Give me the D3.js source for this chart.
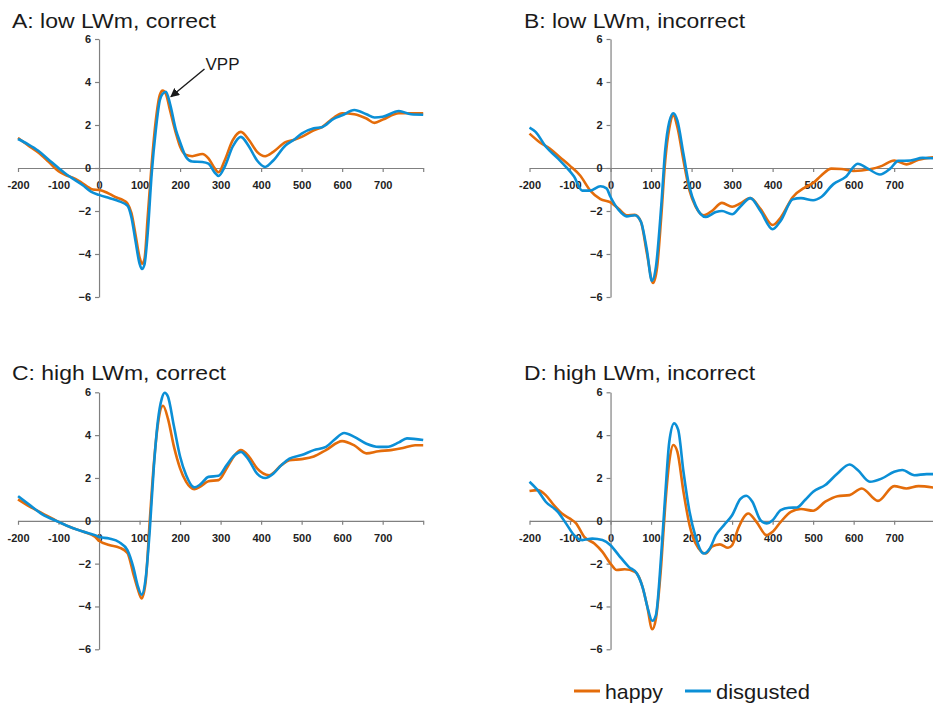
<!DOCTYPE html>
<html>
<head>
<meta charset="utf-8">
<script src="https://cdn.jsdelivr.net/npm/d3@7"></script>
<style>
  body { margin: 0; background: #fff; }
  svg { display: block; }
  text { font-family: Arial, "Liberation Sans", Helvetica, sans-serif; }
</style>
</head>
<body>
<svg id="chart" width="933" height="706"></svg>
<script>
// Axis ticks and labels (time in ms, amplitude in µV)
const xTickValues = [-200, -100, 0, 100, 200, 300, 400, 500, 600, 700, 800];
const xTickLabels = ["-200", "-100", "0", "100", "200", "300", "400", "500", "600", "700", ""];
const yTickValues = [-6, -4, -2, 0, 2, 4, 6];

const seriesNames = ["happy", "disgusted"];
const seriesColors = ["#E46C0A", "#0B8FD6"];
const panelTitles = ["A: low LWm, correct", "B: low LWm, incorrect", "C: high LWm, correct", "D: high LWm, incorrect"];

// Waveforms: [time ms, amplitude]
const happyA = [[-200,1.4],[-175,1.05],[-150,0.72],[-125,0.3],[-100,-0.15],[-80,-0.35],[-65,-0.45],[-50,-0.6],[-30,-0.85],[-15,-1.0],[0,-1.02],[20,-1.15],[40,-1.35],[60,-1.5],[70,-1.65],[80,-2.1],[90,-3.1],[100,-4.15],[106,-4.45],[112,-4.25],[120,-2.3],[130,0.2],[140,2.2],[150,3.4],[157,3.6],[165,3.45],[175,2.7],[190,1.6],[200,1.0],[215,0.6],[230,0.55],[255,0.65],[270,0.45],[285,0.0],[295,-0.2],[310,0.35],[330,1.3],[350,1.68],[370,1.3],[390,0.75],[410,0.55],[430,0.75],[460,1.2],[480,1.3],[500,1.45],[530,1.75],[550,1.9],[580,2.35],[600,2.55],[630,2.5],[660,2.3],[680,2.1],[700,2.25],[740,2.55],[770,2.55],[800,2.55]];
const disgustedA = [[-200,1.35],[-175,1.1],[-150,0.8],[-125,0.4],[-100,0.0],[-80,-0.3],[-60,-0.55],[-40,-0.8],[-20,-1.1],[0,-1.25],[25,-1.4],[50,-1.55],[70,-1.75],[80,-2.3],[90,-3.4],[100,-4.45],[106,-4.7],[112,-4.5],[120,-3.05],[130,-0.25],[140,1.75],[150,3.15],[157,3.45],[165,3.55],[175,3.0],[190,1.75],[200,1.2],[215,0.5],[230,0.3],[255,0.28],[270,0.2],[285,-0.2],[295,-0.37],[310,0.05],[330,1.0],[350,1.45],[370,1.0],[390,0.35],[410,0.05],[430,0.35],[460,1.05],[480,1.3],[500,1.6],[530,1.85],[550,1.9],[580,2.3],[600,2.45],[630,2.7],[660,2.5],[680,2.35],[700,2.38],[740,2.65],[770,2.5],[800,2.48]];

const happyB = [[-200,1.6],[-175,1.2],[-150,0.9],[-125,0.5],[-100,0.1],[-75,-0.35],[-50,-1.05],[-25,-1.45],[0,-1.6],[20,-1.9],[40,-2.2],[60,-2.18],[75,-2.5],[90,-4.0],[105,-5.35],[115,-4.6],[125,-2.3],[135,0.35],[145,1.85],[155,2.45],[165,1.9],[180,0.35],[195,-1.05],[210,-1.8],[230,-2.2],[250,-2.0],[275,-1.62],[300,-1.8],[320,-1.65],[345,-1.4],[370,-1.9],[400,-2.65],[420,-2.3],[450,-1.35],[480,-0.9],[500,-0.7],[520,-0.35],[545,-0.03],[570,-0.05],[600,-0.14],[640,-0.06],[670,0.1],[700,0.35],[730,0.17],[760,0.38],[800,0.5]];
const disgustedB = [[-200,1.88],[-185,1.68],[-160,1.0],[-130,0.45],[-110,0.05],[-90,-0.4],[-70,-1.05],[-50,-1.05],[-25,-0.85],[-10,-0.95],[0,-1.35],[20,-1.95],[40,-2.25],[60,-2.2],[75,-2.5],[90,-3.85],[102,-5.25],[112,-4.6],[125,-1.8],[135,0.85],[145,2.15],[155,2.55],[165,2.2],[180,0.65],[195,-0.9],[210,-1.75],[235,-2.28],[260,-2.05],[275,-2.0],[300,-2.15],[320,-1.8],[345,-1.4],[370,-2.0],[400,-2.85],[420,-2.45],[450,-1.45],[470,-1.4],[500,-1.5],[520,-1.35],[550,-0.75],[580,-0.42],[610,0.2],[635,-0.03],[665,-0.3],[690,-0.03],[710,0.33],[740,0.35],[770,0.47],[800,0.45]];

const happyC = [[-200,1.0],[-170,0.65],[-140,0.35],[-100,-0.05],[-70,-0.3],[-40,-0.5],[-10,-0.75],[0,-0.93],[25,-1.13],[50,-1.25],[70,-1.5],[85,-2.5],[95,-3.15],[105,-3.63],[115,-2.85],[125,-0.05],[135,2.6],[145,4.47],[158,5.37],[170,4.77],[185,3.45],[200,2.45],[215,1.82],[235,1.48],[250,1.6],[270,1.85],[295,1.9],[315,2.45],[335,3.07],[350,3.3],[370,3.0],[390,2.45],[420,2.13],[450,2.6],[470,2.83],[500,2.88],[530,3.0],[560,3.3],[600,3.72],[630,3.52],[660,3.15],[690,3.25],[720,3.3],[750,3.4],[780,3.53],[800,3.53]];
const disgustedC = [[-200,1.15],[-170,0.72],[-140,0.3],[-100,-0.05],[-70,-0.3],[-40,-0.5],[-10,-0.67],[0,-0.75],[25,-0.83],[50,-1.0],[70,-1.37],[85,-2.2],[95,-3.0],[105,-3.45],[115,-2.7],[125,-0.5],[135,2.45],[145,4.63],[155,5.72],[162,5.98],[170,5.8],[185,4.4],[200,3.0],[215,2.13],[235,1.56],[250,1.7],[270,2.05],[295,2.1],[315,2.6],[335,3.07],[350,3.22],[370,2.83],[390,2.2],[410,2.0],[430,2.2],[450,2.6],[470,2.9],[500,3.07],[530,3.3],[560,3.45],[580,3.77],[605,4.1],[630,3.92],[660,3.6],[690,3.45],[710,3.45],[740,3.66],[760,3.85],[800,3.77]];

const happyD = [[-200,1.39],[-180,1.43],[-160,1.2],[-140,0.73],[-120,0.34],[-100,0.1],[-85,-0.12],[-65,-0.75],[-40,-1.06],[-20,-1.45],[0,-2.0],[15,-2.3],[35,-2.26],[60,-2.38],[75,-2.85],[90,-3.94],[103,-5.06],[112,-4.56],[125,-2.07],[135,0.73],[145,2.76],[155,3.54],[165,3.22],[180,1.36],[195,-0.2],[210,-1.06],[235,-1.53],[250,-1.21],[270,-1.1],[290,-1.26],[300,-1.14],[315,-0.36],[340,0.34],[360,-0.05],[385,-0.67],[400,-0.51],[420,-0.05],[445,0.42],[470,0.55],[500,0.47],[530,0.89],[560,1.15],[590,1.2],[620,1.51],[660,0.93],[700,1.62],[730,1.51],[760,1.62],[800,1.54]];
const disgustedD = [[-200,1.82],[-180,1.43],[-160,0.89],[-130,0.42],[-110,-0.12],[-90,-0.67],[-70,-0.9],[-45,-0.83],[-20,-0.9],[0,-1.14],[20,-1.6],[45,-2.15],[65,-2.46],[80,-3.16],[92,-4.1],[103,-4.67],[112,-4.4],[125,-1.6],[135,1.2],[145,3.69],[157,4.55],[167,4.24],[180,2.29],[195,0.42],[210,-0.75],[230,-1.53],[245,-1.29],[260,-0.67],[280,-0.2],[300,0.26],[320,1.01],[335,1.17],[350,0.89],[370,0.03],[385,-0.12],[400,0.03],[420,0.5],[440,0.61],[460,0.62],[480,0.97],[500,1.36],[530,1.67],[560,2.21],[590,2.63],[610,2.37],[640,1.82],[670,1.98],[700,2.29],[720,2.37],[750,2.13],[780,2.18],[800,2.18]];

// Panel placement on the page
const panels = [
  { title: panelTitles[0], series: [happyA, disgustedA], left: 18,    top: 39,    bottom: 297,   titleX: 12,  titleY: 28,  titleW: 204 },
  { title: panelTitles[1], series: [happyB, disgustedB], left: 529.5, top: 39,    bottom: 297,   titleX: 524, titleY: 28,  titleW: 221 },
  { title: panelTitles[2], series: [happyC, disgustedC], left: 18,    top: 392.3, bottom: 649.3, titleX: 12,  titleY: 380, titleW: 214 },
  { title: panelTitles[3], series: [happyD, disgustedD], left: 529.5, top: 392.3, bottom: 649.3, titleX: 524, titleY: 380, titleW: 231 }
];
const plotWidth = 405.2;   // -200 .. 800 ms
const axisColor = "#808080";
const labelColor = "#222";

const svg = d3.select("#chart");

panels.forEach((p, i) => {
  const x = d3.scaleLinear().domain([-200, 800]).range([p.left, p.left + plotWidth]);
  const y = d3.scaleLinear().domain([-6, 6]).range([p.bottom, p.top]);
  const g = svg.append("g").attr("class", "panel panel-" + i);

  g.append("text")
    .attr("x", p.titleX).attr("y", p.titleY)
    .attr("font-size", 20.5).attr("fill", "#1a1a1a")
    .attr("textLength", p.titleW).attr("lengthAdjust", "spacingAndGlyphs")
    .text(p.title);

  // horizontal axis through zero
  const xAxis = d3.axisBottom(x)
    .tickValues(xTickValues)
    .tickFormat((d, k) => xTickLabels[k])
    .tickSize(4).tickSizeOuter(0).tickPadding(9);
  const gx = g.append("g").attr("transform", `translate(0,${y(0)})`).call(xAxis);

  // vertical axis at time zero
  const yAxis = d3.axisLeft(y)
    .tickValues(yTickValues)
    .tickFormat(d3.format("d"))
    .tickSize(4).tickSizeOuter(0).tickPadding(4);
  const gy = g.append("g").attr("transform", `translate(${x(0)},0)`).call(yAxis);

  [gx, gy].forEach(ax => {
    ax.select(".domain").attr("stroke", axisColor).attr("stroke-width", 1.2);
    ax.selectAll(".tick line").attr("stroke", axisColor).attr("stroke-width", 1.2);
    ax.selectAll(".tick text")
      .attr("fill", labelColor)
      .attr("font-size", 11).attr("font-weight", "bold")
      .attr("font-family", "Arial, 'Liberation Sans', sans-serif");
  });

  const line = d3.line()
    .x(d => x(d[0])).y(d => y(d[1]))
    .curve(d3.curveMonotoneX);

  p.series.forEach((data, s) => {
    g.append("path")
      .datum(data)
      .attr("fill", "none")
      .attr("stroke", seriesColors[s])
      .attr("stroke-width", 2.6)
      .attr("stroke-linejoin", "round")
      .attr("d", line);
  });

  // peak annotation in the first panel
  if (i === 0) {
    const defs = svg.append("defs");
    defs.append("marker")
      .attr("id", "arrowhead")
      .attr("viewBox", "0 0 10 10").attr("refX", 9).attr("refY", 5)
      .attr("markerWidth", 9).attr("markerHeight", 9)
      .attr("markerUnits", "userSpaceOnUse")
      .attr("orient", "auto")
      .append("path").attr("d", "M0,0 L10,5 L0,10 z").attr("fill", "#1a1a1a");
    const peak = data => data.reduce((a, b) => (b[1] > a[1] ? b : a));
    const pk = peak(disgustedA);
    g.append("line")
      .attr("x1", 204.5).attr("y1", 69)
      .attr("x2", x(pk[0]) + 5).attr("y2", y(pk[1]) + 5)
      .attr("stroke", "#1a1a1a").attr("stroke-width", 1.4)
      .attr("marker-end", "url(#arrowhead)");
    g.append("text")
      .attr("x", 205.5).attr("y", 69.5)
      .attr("font-size", 16).attr("fill", "#1a1a1a")
      .attr("textLength", 34).attr("lengthAdjust", "spacingAndGlyphs")
      .text("VPP");
  }
});

// Legend
const legend = svg.append("g").attr("class", "legend");
const legendItems = [
  { name: seriesNames[0], color: seriesColors[0], x: 574, w: 58 },
  { name: seriesNames[1], color: seriesColors[1], x: 685, w: 94 }
];
legendItems.forEach(it => {
  legend.append("line")
    .attr("x1", it.x).attr("x2", it.x + 26)
    .attr("y1", 691).attr("y2", 691)
    .attr("stroke", it.color).attr("stroke-width", 3);
  legend.append("text")
    .attr("x", it.x + 31).attr("y", 699)
    .attr("font-size", 21).attr("fill", "#1a1a1a")
    .attr("textLength", it.w).attr("lengthAdjust", "spacingAndGlyphs")
    .text(it.name);
});
</script>
</body>
</html>
